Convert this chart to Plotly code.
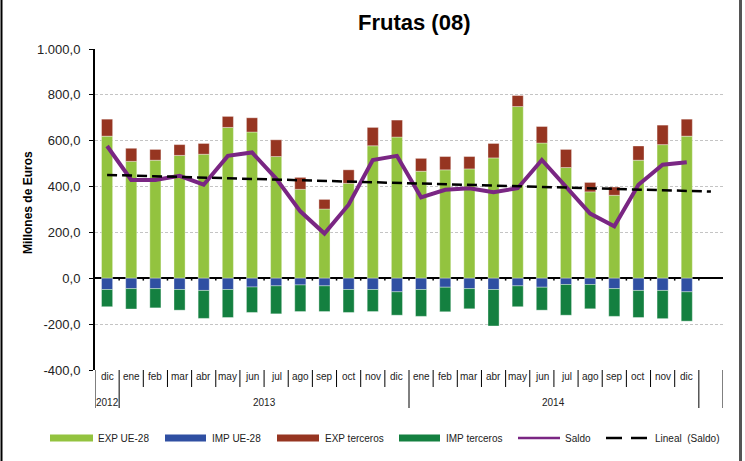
import numpy as np
import plotly.graph_objects as go

# Monthly trade figures, millions of euros (Dec 2012 - Dec 2014)
months = ["dic", "ene", "feb", "mar", "abr", "may", "jun", "jul", "ago", "sep", "oct", "nov", "dic",
          "ene", "feb", "mar", "abr", "may", "jun", "jul", "ago", "sep", "oct", "nov", "dic"]
years = ["2012", "2013", "2014"]
exp_ue = [620, 510, 515, 536, 541, 658, 638, 531, 388, 302, 414, 578, 616,
          467, 473, 477, 525, 749, 590, 483, 377, 362, 515, 583, 620]
exp_terc = [74, 57, 47, 47, 47, 48, 62, 73, 52, 42, 59, 80, 74,
            56, 58, 54, 63, 48, 72, 79, 41, 36, 62, 85, 74]
imp_ue = [49, 45, 45, 49, 53, 49, 38, 33, 29, 33, 49, 49, 59,
          49, 39, 45, 49, 33, 39, 27, 27, 45, 53, 53, 59]
imp_terc = [75, 89, 84, 90, 122, 122, 111, 122, 116, 112, 100, 96, 102,
            117, 107, 88, 159, 91, 100, 134, 106, 121, 118, 123, 128]
saldo = [577, 429, 429, 447, 408, 534, 549, 435, 292, 195, 321, 516, 534,
         353, 386, 393, 375, 393, 516, 400, 282, 227, 408, 495, 506]
y_ticks = [-400, -200, 0, 200, 400, 600, 800, 1000]
y_ticktext = ["-400,0", "-200,0", "0,0", "200,0", "400,0", "600,0", "800,0", "1.000,0"]

C_EXP_UE = "#93C33F"
C_IMP_UE = "#2F4FA2"
C_EXP_T = "#963521"
C_IMP_T = "#148040"
C_SALDO = "#7A2683"

n = len(months)
x = list(range(n))
FONT = "Liberation Sans, Arial, sans-serif"

# Linear trend of the balance, projected one period ahead
coef = np.polyfit(x, saldo, 1)
x_trend = [0, n]
y_trend = list(np.polyval(coef, x_trend))

edge = dict(color="rgba(255,255,255,0.6)", width=0.6)
fig = go.Figure()
fig.add_bar(x=x, y=exp_ue, marker=dict(color=C_EXP_UE, line=edge), name="EXP UE-28")
fig.add_bar(x=x, y=[-v for v in imp_ue], marker=dict(color=C_IMP_UE, line=edge), name="IMP UE-28")
fig.add_bar(x=x, y=exp_terc, marker=dict(color=C_EXP_T, line=edge), name="EXP terceros")
fig.add_bar(x=x, y=[-v for v in imp_terc], marker=dict(color=C_IMP_T, line=edge), name="IMP terceros")
fig.add_scatter(x=x, y=saldo, mode="lines", line=dict(color=C_SALDO, width=4), name="Saldo")
fig.add_scatter(x=x_trend, y=y_trend, mode="lines",
                line=dict(color="black", width=2.5, dash="10px,5px"), name="Lineal (Saldo)")

# plot-area geometry in pixels
W, H = 745, 461
L, R, T, B = 95, 22, 49, 91
PW, PH = W - L - R, H - T - B


def px_x(p):
    return (p - L) / PW


def px_y(p):
    return (H - B - p) / PH


shapes = []
annotations = []


def label(xv, yv, text, size, xref="paper", xanchor="center", **kw):
    annotations.append(dict(x=xv, y=yv, xref=xref, yref="paper", text=text, showarrow=False,
                            xanchor=xanchor, yanchor="middle",
                            font=dict(size=size, color=kw.pop("color", "#222"), family=FONT), **kw))


# category separators under the plot
long_seps = {-0.5, 0.5, 12.5, 24.5, 25.5}
for i in range(n + 2):
    b = i - 0.5
    y1 = px_y(408) if b in long_seps else px_y(387)
    shapes.append(dict(type="line", xref="x", yref="paper", x0=b, x1=b, y0=0, y1=y1,
                       line=dict(color="black", width=1)))
    # small ticks on the zero axis
    if 0 < i < n + 1:
        shapes.append(dict(type="line", xref="x", yref="y", x0=b, x1=b, y0=0, y1=-10,
                           line=dict(color="black", width=1.5)))

for i, m in enumerate(months):
    label(i, px_y(376), m, 10, xref="x")
year_pos = [0, 6.5, 18.5]
for xp, yr in zip(year_pos, years):
    label(xp, px_y(403), yr, 10, xref="x")

# title and axis title
label(px_x(414), px_y(23), "<b>Frutas (08)</b>", 22, color="black")
label(px_x(28), px_y(203), "<b>Millones de Euros</b>", 12, color="black", textangle=-90)

# legend drawn below the chart
leg_y = px_y(438)
leg_items = [
    ("rect", C_EXP_UE, 50, 93, 96, "EXP UE-28"),
    ("rect", C_IMP_UE, 165, 206, 210, "IMP UE-28"),
    ("rect", C_EXP_T, 277, 319, 323, "EXP terceros"),
    ("rect", C_IMP_T, 399, 440, 444, "IMP terceros"),
    ("line", C_SALDO, 518, 560, 563, "Saldo"),
    ("dash", "black", 606, 647, 653, "Lineal  (Saldo)"),
]
for kind, col, x0, x1, tx, text in leg_items:
    if kind == "rect":
        shapes.append(dict(type="rect", xref="paper", yref="paper", x0=px_x(x0), x1=px_x(x1),
                           y0=px_y(441.5), y1=px_y(434.5), line=dict(width=0), fillcolor=col))
    elif kind == "line":
        shapes.append(dict(type="line", xref="paper", yref="paper", x0=px_x(x0), x1=px_x(x1),
                           y0=leg_y, y1=leg_y, line=dict(color=col, width=2.5)))
    else:
        shapes.append(dict(type="line", xref="paper", yref="paper", x0=px_x(x0), x1=px_x(x0 + 16),
                           y0=leg_y, y1=leg_y, line=dict(color=col, width=2.5)))
        shapes.append(dict(type="line", xref="paper", yref="paper", x0=px_x(x1 - 16), x1=px_x(x1),
                           y0=leg_y, y1=leg_y, line=dict(color=col, width=2.5)))
    label(px_x(tx), leg_y, text, 10, xanchor="left")

# outer frame lines
shapes.append(dict(type="line", xref="paper", yref="paper", x0=px_x(1.5), x1=px_x(1.5),
                   y0=px_y(0), y1=px_y(H), line=dict(color="black", width=2)))
shapes.append(dict(type="line", xref="paper", yref="paper", x0=px_x(740.5), x1=px_x(740.5),
                   y0=px_y(0), y1=px_y(H), line=dict(color="#555", width=3)))

fig.update_layout(
    width=W, height=H,
    margin=dict(l=L, r=R, t=T, b=B, pad=0),
    barmode="relative", bargap=0.54,
    plot_bgcolor="white", paper_bgcolor="white",
    showlegend=False,
    shapes=shapes, annotations=annotations,
    font=dict(family=FONT, color="#222"),
    xaxis=dict(range=[-0.5, n + 0.5], showticklabels=False, showgrid=False, zeroline=False,
               showline=False, ticks=""),
    yaxis=dict(range=[-400, 1000], tickvals=y_ticks, ticktext=y_ticktext,
               tickfont=dict(size=13, color="#222", family=FONT),
               showgrid=True, gridcolor="#C4C4C4", gridwidth=1, griddash="3px,2px",
               zeroline=True, zerolinecolor="black", zerolinewidth=2,
               showline=True, linecolor="black", linewidth=2,
               ticks="outside", ticklen=4, tickcolor="black", tickwidth=1,
               ticklabelstandoff=6),
)

fig.write_html("out.html")
